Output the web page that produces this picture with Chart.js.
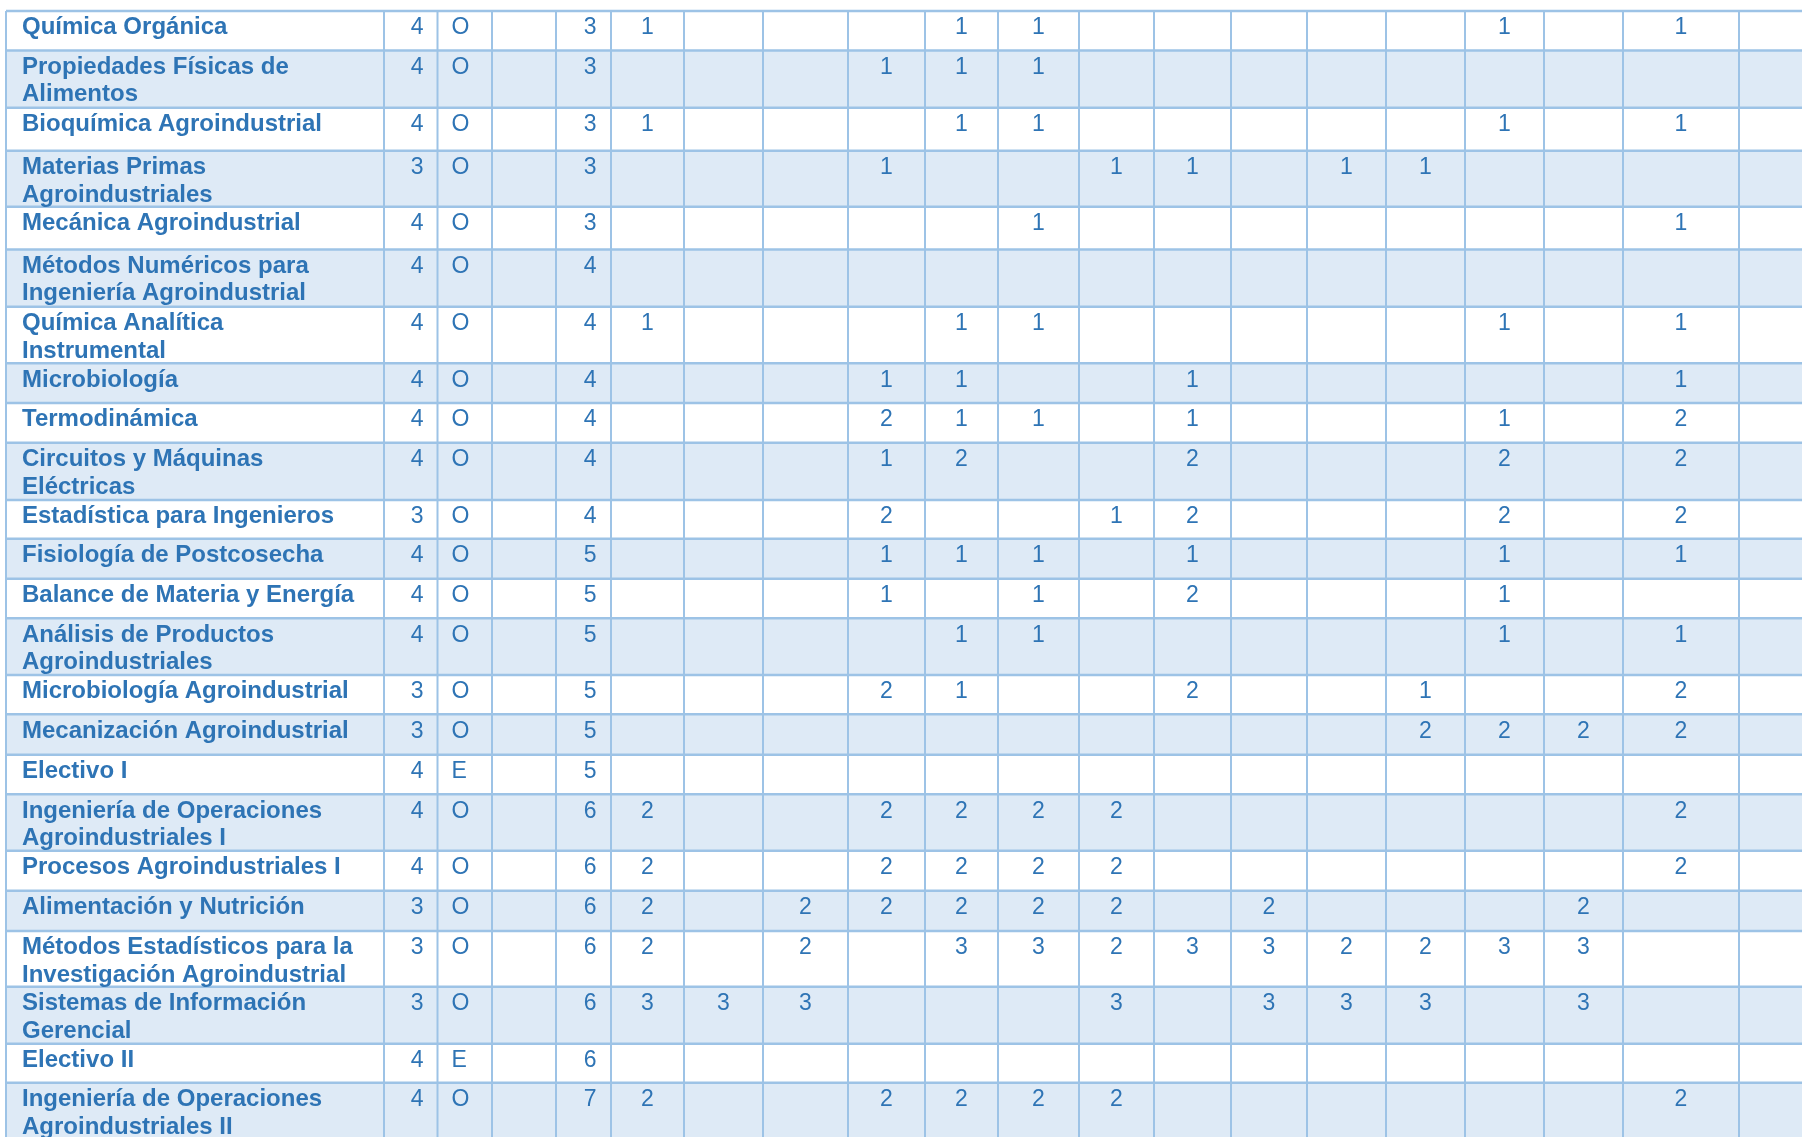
<!DOCTYPE HTML>
<html>
<head>
  <script src="https://cdn.jsdelivr.net/npm/chart.js"></script>
  <style>
    body { margin: 0; background: #ffffff; }
    canvas { display: block; }
  </style>
</head>
<body>
  <canvas id="tablaChart" width="1802" height="1137"></canvas>

  <script>
    var asignaturas = [
      'Química Orgánica',
      'Propiedades Físicas de\nAlimentos',
      'Bioquímica Agroindustrial',
      'Materias Primas\nAgroindustriales',
      'Mecánica Agroindustrial',
      'Métodos Numéricos para\nIngeniería Agroindustrial',
      'Química Analítica\nInstrumental',
      'Microbiología',
      'Termodinámica',
      'Circuitos y Máquinas\nEléctricas',
      'Estadística para Ingenieros',
      'Fisiología de Postcosecha',
      'Balance de Materia y Energía',
      'Análisis de Productos\nAgroindustriales',
      'Microbiología Agroindustrial',
      'Mecanización Agroindustrial',
      'Electivo I',
      'Ingeniería de Operaciones\nAgroindustriales I',
      'Procesos Agroindustriales I',
      'Alimentación y Nutrición',
      'Métodos Estadísticos para la\nInvestigación Agroindustrial',
      'Sistemas de Información\nGerencial',
      'Electivo II',
      'Ingeniería de Operaciones\nAgroindustriales II'
    ];
    var creditos = [4, 4, 4, 3, 4, 4, 4, 4, 4, 4, 3, 4, 4, 4, 3, 3, 4, 4, 4, 3, 3, 3, 4, 4];
    var tipos = ['O', 'O', 'O', 'O', 'O', 'O', 'O', 'O', 'O', 'O', 'O', 'O', 'O', 'O', 'O', 'O', 'E', 'O', 'O', 'O', 'O', 'O', 'E', 'O'];
    var semestres = [3, 3, 3, 3, 3, 4, 4, 4, 4, 4, 4, 5, 5, 5, 5, 5, 5, 6, 6, 6, 6, 6, 6, 7];

    // competency levels per subject (14 columns, null = empty cell)
    var n = null;
    var competencias = [
      [1, n, n, n, 1, 1, n, n, n, n, n, 1, n, 1],
      [n, n, n, 1, 1, 1, n, n, n, n, n, n, n, n],
      [1, n, n, n, 1, 1, n, n, n, n, n, 1, n, 1],
      [n, n, n, 1, n, n, 1, 1, n, 1, 1, n, n, n],
      [n, n, n, n, n, 1, n, n, n, n, n, n, n, 1],
      [n, n, n, n, n, n, n, n, n, n, n, n, n, n],
      [1, n, n, n, 1, 1, n, n, n, n, n, 1, n, 1],
      [n, n, n, 1, 1, n, n, 1, n, n, n, n, n, 1],
      [n, n, n, 2, 1, 1, n, 1, n, n, n, 1, n, 2],
      [n, n, n, 1, 2, n, n, 2, n, n, n, 2, n, 2],
      [n, n, n, 2, n, n, 1, 2, n, n, n, 2, n, 2],
      [n, n, n, 1, 1, 1, n, 1, n, n, n, 1, n, 1],
      [n, n, n, 1, n, 1, n, 2, n, n, n, 1, n, n],
      [n, n, n, n, 1, 1, n, n, n, n, n, 1, n, 1],
      [n, n, n, 2, 1, n, n, 2, n, n, 1, n, n, 2],
      [n, n, n, n, n, n, n, n, n, n, 2, 2, 2, 2],
      [n, n, n, n, n, n, n, n, n, n, n, n, n, n],
      [2, n, n, 2, 2, 2, 2, n, n, n, n, n, n, 2],
      [2, n, n, 2, 2, 2, 2, n, n, n, n, n, n, 2],
      [2, n, 2, 2, 2, 2, 2, n, 2, n, n, n, 2, n],
      [2, n, 2, n, 3, 3, 2, 3, 3, 2, 2, 3, 3, n],
      [3, 3, 3, n, n, n, 3, n, 3, 3, 3, n, 3, n],
      [n, n, n, n, n, n, n, n, n, n, n, n, n, n],
      [2, n, n, 2, 2, 2, 2, n, n, n, n, n, n, 2]
    ];

    // Layout of the grid (in scale units = page pixels)
    var colEdges = [6, 384, 437.5, 492, 556, 611, 684, 763, 848, 925, 998, 1079, 1154, 1231, 1307, 1386, 1465, 1544, 1623, 1739, 1870];
    var rowEdges = [11, 50.5, 107.7, 150.7, 206.7, 249.4, 306.7, 363.3, 403, 442.7, 500, 538.7, 578.7, 618.3, 675, 714.3, 754.7, 794.3, 850.7, 890.7, 931, 986.7, 1043.7, 1082.7, 1150];

    var azul = '#2E74B5';
    var linea = '#9DC3E6';
    var franja = '#DEEAF6';
    var baseOffset = 23.3;
    var lineStep = 27.6;

    // one point per filled cell, placed at the cell's text anchor
    var puntosComp = [];
    competencias.forEach(function (fila, r) {
      fila.forEach(function (v, k) {
        if (v !== null) {
          puntosComp.push({ x: (colEdges[5 + k] + colEdges[6 + k]) / 2, y: rowEdges[r] + baseOffset, v: v, align: 'center' });
        }
      });
    });
    var puntosInfo = [];
    asignaturas.forEach(function (a, r) {
      var y = rowEdges[r] + baseOffset;
      puntosInfo.push({ x: colEdges[2] - 14, y: y, v: creditos[r], align: 'right' });
      puntosInfo.push({ x: colEdges[2] + 14, y: y, v: tipos[r], align: 'left' });
      puntosInfo.push({ x: colEdges[5] - 14.5, y: y, v: semestres[r], align: 'right' });
    });

    var tablaPlugin = {
      id: 'tabla',
      beforeDatasetsDraw: function (chart) {
        var ctx = chart.ctx;
        var sx = chart.scales.x, sy = chart.scales.y;
        var xl = sx.getPixelForValue(colEdges[0]);
        var xr = sx.getPixelForValue(1802);
        ctx.save();
        // row stripes
        for (var r = 0; r < asignaturas.length; r++) {
          var y0 = sy.getPixelForValue(rowEdges[r]);
          var y1 = sy.getPixelForValue(rowEdges[r + 1]);
          ctx.fillStyle = (r % 2 === 1) ? franja : '#ffffff';
          ctx.fillRect(xl, y0, xr - xl, y1 - y0);
        }
        // grid lines
        ctx.strokeStyle = linea;
        ctx.lineWidth = 2;
        colEdges.forEach(function (c) {
          var x = sx.getPixelForValue(c);
          ctx.beginPath();
          ctx.moveTo(x, sy.getPixelForValue(rowEdges[0]));
          ctx.lineTo(x, sy.getPixelForValue(1137));
          ctx.stroke();
        });
        ctx.lineWidth = 2.5;
        rowEdges.forEach(function (e) {
          var y = sy.getPixelForValue(e);
          ctx.beginPath();
          ctx.moveTo(xl, y);
          ctx.lineTo(xr, y);
          ctx.stroke();
        });
        // subject names
        ctx.fillStyle = azul;
        ctx.font = 'bold 24px "Liberation Sans", Arial, sans-serif';
        ctx.textAlign = 'left';
        ctx.textBaseline = 'alphabetic';
        asignaturas.forEach(function (a, r) {
          a.split('\n').forEach(function (t, i) {
            ctx.fillText(t, sx.getPixelForValue(colEdges[0] + 16), sy.getPixelForValue(rowEdges[r] + baseOffset + i * lineStep));
          });
        });
        ctx.restore();
      },
      afterDatasetsDraw: function (chart) {
        var ctx = chart.ctx;
        ctx.save();
        ctx.fillStyle = azul;
        ctx.font = '23px "Liberation Sans", Arial, sans-serif';
        ctx.textBaseline = 'alphabetic';
        chart.data.datasets.forEach(function (ds, i) {
          var meta = chart.getDatasetMeta(i);
          meta.data.forEach(function (el, j) {
            var p = ds.data[j];
            ctx.textAlign = p.align;
            ctx.fillText(String(p.v), el.x, el.y);
          });
        });
        ctx.restore();
      }
    };

    var myContext = document.getElementById('tablaChart').getContext('2d');
    var myChart = new Chart(myContext, {
      type: 'scatter',
      data: {
        datasets: [
          { label: 'competencias', data: puntosComp, pointRadius: 0, pointHoverRadius: 0 },
          { label: 'datos', data: puntosInfo, pointRadius: 0, pointHoverRadius: 0 }
        ]
      },
      options: {
        responsive: false,
        animation: false,
        events: [],
        layout: { padding: 0 },
        plugins: {
          legend: { display: false },
          tooltip: { enabled: false },
          title: { display: false }
        },
        scales: {
          x: { type: 'linear', min: 0, max: 1802, display: false },
          y: { type: 'linear', min: 0, max: 1137, reverse: true, display: false }
        }
      },
      plugins: [tablaPlugin]
    });
  </script>
</body>
</html>
